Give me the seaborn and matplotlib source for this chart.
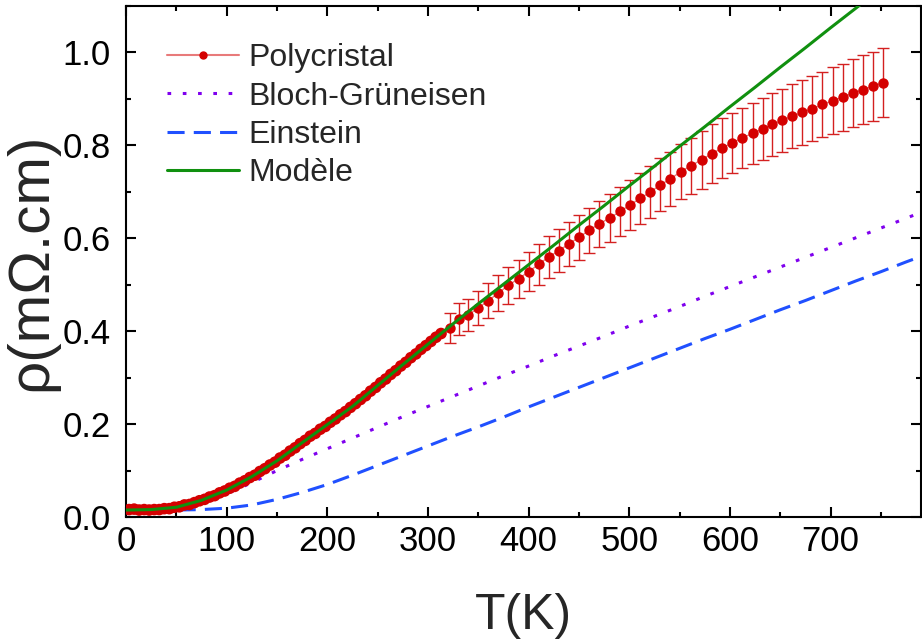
import matplotlib
matplotlib.use("Agg")
import matplotlib.pyplot as plt
import numpy as np
import pandas as pd
import seaborn as sns
from matplotlib.lines import Line2D
from matplotlib.ticker import MultipleLocator

# measured resistivity, dense low-temperature sweep (K, mOhm.cm)
t_dense = [3, 8, 13, 18, 23, 28, 33, 38, 43, 48, 53, 58, 63, 68, 73, 78, 83, 88, 93, 98,
           103, 108, 113, 118, 123, 128, 133, 138, 143, 148, 153, 158, 163, 168, 173, 178,
           183, 188, 193, 198, 203, 208, 213, 218, 223, 228, 233, 238, 243, 248, 253, 258,
           263, 268, 273, 278, 283, 288, 293, 298, 303, 308, 313]
rho_dense = [0.016, 0.017, 0.015, 0.016, 0.015, 0.016, 0.016, 0.018, 0.018, 0.021,
             0.022, 0.026, 0.027, 0.031, 0.035, 0.038, 0.043, 0.046, 0.052, 0.056,
             0.062, 0.066, 0.073, 0.078, 0.085, 0.090, 0.098, 0.104, 0.112, 0.118,
             0.127, 0.133, 0.142, 0.149, 0.158, 0.165, 0.174, 0.180, 0.189, 0.195,
             0.204, 0.211, 0.220, 0.227, 0.236, 0.244, 0.253, 0.261, 0.271, 0.279,
             0.289, 0.297, 0.307, 0.315, 0.325, 0.333, 0.343, 0.351, 0.361, 0.369,
             0.378, 0.387, 0.395]

# high-temperature points with error bars
t_err = [322, 331, 340, 350, 360, 370, 380, 390, 400, 410, 420, 430, 440, 450, 460, 470,
         481, 491, 501, 511, 521, 531, 541, 551, 561, 572, 582, 592, 602, 612, 623, 633,
         642, 652, 662, 672, 682, 692, 702, 712, 722, 732, 742, 752]
rho_err = [0.407, 0.426, 0.435, 0.450, 0.466, 0.482, 0.499, 0.513, 0.528, 0.544,
           0.560, 0.573, 0.588, 0.602, 0.617, 0.631, 0.644, 0.658, 0.672, 0.686,
           0.700, 0.715, 0.728, 0.743, 0.756, 0.769, 0.782, 0.794, 0.805, 0.816,
           0.826, 0.836, 0.845, 0.854, 0.863, 0.871, 0.879, 0.888, 0.896, 0.904,
           0.912, 0.920, 0.927, 0.935]
rho_sd = [0.033, 0.034, 0.035, 0.036, 0.037, 0.039, 0.040, 0.041, 0.042, 0.044,
          0.045, 0.046, 0.047, 0.048, 0.049, 0.050, 0.052, 0.053, 0.054, 0.055,
          0.056, 0.057, 0.058, 0.059, 0.060, 0.062, 0.063, 0.064, 0.064, 0.065,
          0.066, 0.067, 0.068, 0.068, 0.069, 0.070, 0.070, 0.071, 0.072, 0.072,
          0.073, 0.074, 0.074, 0.075]

# model curves
t_model = [0, 25, 50, 75, 100, 125, 150, 175, 200, 225, 250, 275, 300, 325, 350, 375,
           400, 425, 450, 475, 500, 525, 550, 575, 600, 625, 650, 675, 700, 725, 750,
           775, 790]
rho_bg = [0.015, 0.015, 0.018, 0.030, 0.050, 0.074, 0.100, 0.124, 0.147, 0.170,
          0.193, 0.216, 0.238, 0.260, 0.282, 0.304, 0.325, 0.347, 0.368, 0.389,
          0.411, 0.432, 0.453, 0.475, 0.496, 0.517, 0.538, 0.559, 0.580, 0.601,
          0.622, 0.643, 0.656]
rho_einstein = [0.015, 0.015, 0.015, 0.016, 0.019, 0.026, 0.038, 0.053, 0.070, 0.090,
                0.111, 0.132, 0.153, 0.174, 0.194, 0.215, 0.237, 0.258, 0.279, 0.300,
                0.321, 0.342, 0.363, 0.384, 0.404, 0.425, 0.446, 0.466, 0.487, 0.508,
                0.528, 0.549, 0.561]
rho_model = [0.015, 0.016, 0.021, 0.036, 0.058, 0.087, 0.121, 0.160, 0.199, 0.238,
             0.283, 0.328, 0.372, 0.416, 0.459, 0.501, 0.543, 0.585, 0.628, 0.670,
             0.713, 0.755, 0.798, 0.840, 0.883, 0.925, 0.968, 1.010, 1.053, 1.095,
             1.138, 1.180, 1.206]

RED = "#d40000"
RED_LINE = "#e87a7a"
PURPLE = "#7f00ee"
BLUE = "#2050ff"
GREEN = "#10900f"
BG_DASH = (0, (1.2, 3.8))
EIN_DASH = (0, (5.6, 3.0))

sns.set_theme(style="ticks")
plt.rcParams["font.family"] = ["Liberation Sans", "DejaVu Sans"]

fig = plt.figure(figsize=(9.22, 6.39), dpi=100)
ax = fig.add_axes([0.1367, 0.1909, 0.8623, 0.7997])

curves = pd.DataFrame({"T": t_model, "bg": rho_bg, "ein": rho_einstein, "model": rho_model})
sns.lineplot(data=curves, x="T", y="bg", ax=ax, color=PURPLE, lw=2.2, linestyle=BG_DASH)
sns.lineplot(data=curves, x="T", y="ein", ax=ax, color=BLUE, lw=2.2, linestyle=EIN_DASH)

t_all = t_dense + t_err
rho_all = rho_dense + rho_err
ax.plot(t_all, rho_all, color=RED_LINE, lw=1.0, zorder=3)
sns.scatterplot(x=t_dense, y=rho_dense, ax=ax, color=RED, s=70, edgecolor="none", zorder=4)
ax.errorbar(t_err, rho_err, yerr=rho_sd, fmt="o", color=RED, ms=6.5, mec=RED,
            ecolor="#d42020", elinewidth=1.0, capsize=4.5, capthick=1.0, zorder=4)

sns.lineplot(data=curves, x="T", y="model", ax=ax, color=GREEN, lw=2.2, zorder=5)

ax.set_xlim(0, 790)
ax.set_ylim(0, 1.1)
ax.xaxis.set_major_locator(MultipleLocator(100))
ax.xaxis.set_minor_locator(MultipleLocator(50))
ax.yaxis.set_major_locator(MultipleLocator(0.2))
ax.yaxis.set_minor_locator(MultipleLocator(0.1))
ax.tick_params(which="both", direction="in", top=True, right=True, width=1.5, colors="black")
ax.tick_params(which="major", length=7, labelsize=25)
ax.tick_params(which="minor", length=3.5)
ax.tick_params(axis="x", pad=6)
ax.tick_params(axis="y", pad=11)
for sp in ax.spines.values():
    sp.set_linewidth(1.5)
    sp.set_color("black")

ax.set_xlabel("T(K)", fontsize=36, labelpad=25)
ax.set_ylabel("ρ(mΩ.cm)", fontsize=42, labelpad=3)

handles = [
    Line2D([], [], color=RED_LINE, lw=1.5, marker="o", ms=5, mfc=RED, mec=RED, label="Polycristal"),
    Line2D([], [], color=PURPLE, lw=2.2, linestyle=BG_DASH, label="Bloch-Grüneisen"),
    Line2D([], [], color=BLUE, lw=2.2, linestyle=EIN_DASH, label="Einstein"),
    Line2D([], [], color=GREEN, lw=2.2, label="Modèle"),
]
ax.legend(handles=handles, loc="upper left", bbox_to_anchor=(0.0516, 0.927), frameon=False,
          borderpad=0, borderaxespad=0, fontsize=23, handlelength=2.25, handletextpad=0.3,
          labelspacing=0.26)

fig.savefig("out.png", dpi=100)
